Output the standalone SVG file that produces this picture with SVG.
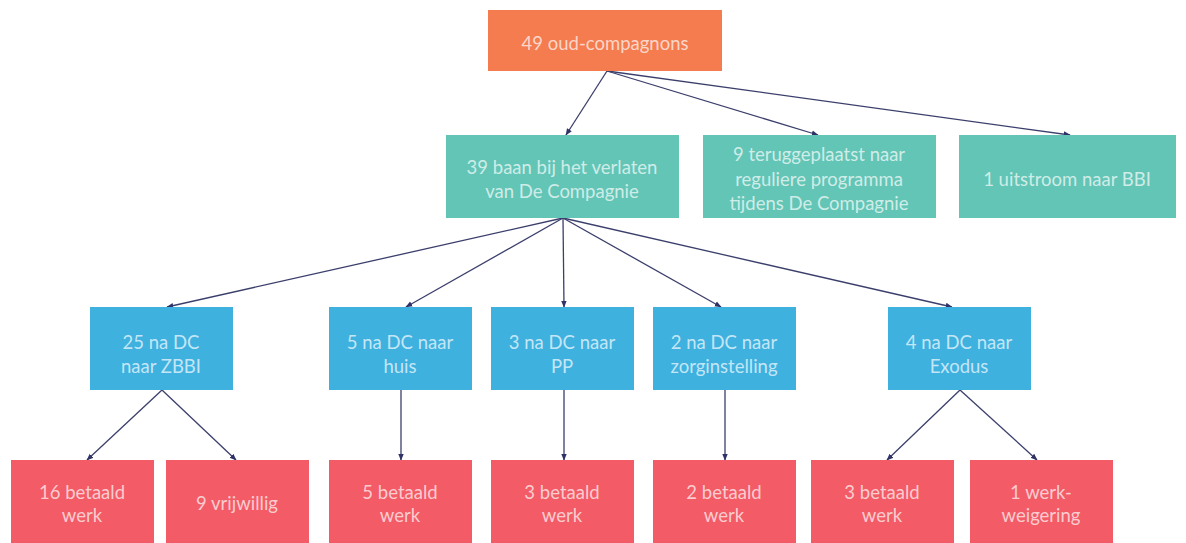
<svg xmlns="http://www.w3.org/2000/svg" width="1186" height="543" viewBox="0 0 1186 543">
<style>
text{font-family:Lato,"Open Sans","Liberation Sans",sans-serif;font-size:18.5px;fill:#ffffff;fill-opacity:0.7;text-anchor:middle}
.o{fill:#F47C4F}.t{fill:#63C5B6}.b{fill:#3EB1DF}.r{fill:#F35B66}
.c line{stroke:#3B3F6B;stroke-width:1.3;marker-end:url(#a)}
</style>
<defs>
<marker id="a" viewBox="0 0 10 10" refX="9" refY="5" markerWidth="7" markerHeight="7" markerUnits="userSpaceOnUse" orient="auto">
<path d="M0,1 L10,5 L0,9 z" fill="#2E3266"/>
</marker>
</defs>
<rect width="1186" height="543" fill="#ffffff"/>
<g class="c" id="connectors">
<line x1="607" y1="71" x2="566" y2="135"/>
<line x1="607" y1="71" x2="818" y2="135"/>
<line x1="607" y1="71" x2="1070" y2="135"/>
<line x1="563" y1="218" x2="167" y2="307"/>
<line x1="563" y1="218" x2="406" y2="307"/>
<line x1="563" y1="218" x2="564" y2="307"/>
<line x1="563" y1="218" x2="721" y2="307"/>
<line x1="563" y1="218" x2="952" y2="307"/>
<line x1="162" y1="390" x2="87" y2="460"/>
<line x1="162" y1="390" x2="236" y2="460"/>
<line x1="401" y1="390" x2="401" y2="460"/>
<line x1="564" y1="390" x2="564" y2="460"/>
<line x1="725" y1="390" x2="725" y2="460"/>
<line x1="960" y1="390" x2="887" y2="460"/>
<line x1="960" y1="390" x2="1037" y2="460"/>
</g>
<g id="n0"><rect class="o" x="488" y="10" width="234" height="61"/><text x="605" y="50">49 oud-compagnons</text></g>
<g id="n1"><rect class="t" x="446" y="135" width="233" height="83"/><text x="562" y="174">39 baan bij het verlaten</text><text x="562" y="198">van De Compagnie</text></g>
<g id="n2"><rect class="t" x="703" y="135" width="233" height="83"/><text x="819" y="161">9 teruggeplaatst naar</text><text x="819" y="186">reguliere programma</text><text x="819" y="210">tijdens De Compagnie</text></g>
<g id="n3"><rect class="t" x="959" y="135" width="217" height="83"/><text x="1067" y="186">1 uitstroom naar BBI</text></g>
<g id="n4"><rect class="b" x="90" y="307" width="143" height="83"/><text x="161" y="349">25 na DC</text><text x="161" y="373">naar ZBBI</text></g>
<g id="n5"><rect class="b" x="329" y="307" width="143" height="83"/><text x="400" y="349">5 na DC naar</text><text x="400" y="373">huis</text></g>
<g id="n6"><rect class="b" x="491" y="307" width="143" height="83"/><text x="562" y="349">3 na DC naar</text><text x="562" y="373">PP</text></g>
<g id="n7"><rect class="b" x="653" y="307" width="143" height="83"/><text x="724" y="349">2 na DC naar</text><text x="724" y="373">zorginstelling</text></g>
<g id="n8"><rect class="b" x="888" y="307" width="143" height="83"/><text x="959" y="349">4 na DC naar</text><text x="959" y="373">Exodus</text></g>
<g id="n9"><rect class="r" x="11" y="460" width="143" height="83"/><text x="82" y="499">16 betaald</text><text x="82" y="522">werk</text></g>
<g id="n10"><rect class="r" x="166" y="460" width="143" height="83"/><text x="237" y="510">9 vrijwillig</text></g>
<g id="n11"><rect class="r" x="329" y="460" width="143" height="83"/><text x="400" y="499">5 betaald</text><text x="400" y="522">werk</text></g>
<g id="n12"><rect class="r" x="491" y="460" width="143" height="83"/><text x="562" y="499">3 betaald</text><text x="562" y="522">werk</text></g>
<g id="n13"><rect class="r" x="653" y="460" width="143" height="83"/><text x="724" y="499">2 betaald</text><text x="724" y="522">werk</text></g>
<g id="n14"><rect class="r" x="811" y="460" width="143" height="83"/><text x="882" y="499">3 betaald</text><text x="882" y="522">werk</text></g>
<g id="n15"><rect class="r" x="970" y="460" width="143" height="83"/><text x="1041" y="499">1 werk-</text><text x="1041" y="522">weigering</text></g>
</svg>
